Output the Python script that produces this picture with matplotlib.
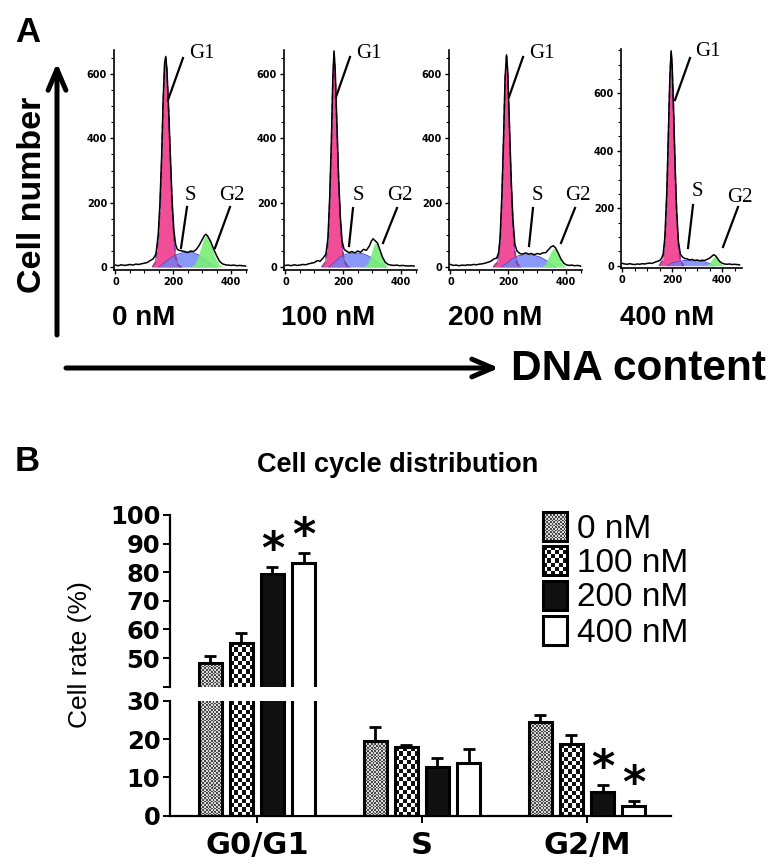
"""Cell cycle figure: flow histograms (A) and phase distribution bars (B)."""

import matplotlib
matplotlib.use("Agg")
import matplotlib.pyplot as plt
import numpy as np
from matplotlib.colors import ListedColormap
from matplotlib.patches import Rectangle
from matplotlib.ticker import MultipleLocator

W, H = 776, 867

doses = ["0 nM", "100 nM", "200 nM", "400 nM"]

# panel A: (DNA channel, cell count)
tot_0 = [(0, 6), (10, 4), (20, 7), (30, 5), (40, 6), (50, 8), (60, 6), (70, 9), (80, 8), (90, 10),
         (100, 12), (110, 14), (120, 20), (130, 25), (140, 40), (148, 100), (154, 200), (160, 350),
         (165, 520), (170, 635), (174, 655), (178, 615), (184, 490), (190, 345), (196, 205),
         (202, 115), (208, 70), (214, 55), (220, 52), (230, 50), (240, 48), (250, 45), (260, 50),
         (270, 48), (280, 55), (290, 68), (300, 85), (308, 98), (313, 102), (320, 95), (330, 78),
         (340, 55), (350, 35), (360, 18), (370, 10), (380, 7), (390, 6), (400, 5), (410, 6),
         (420, 4), (430, 5), (440, 4), (450, 3)]
g1_0 = [(128, 0), (138, 15), (148, 85), (154, 180), (160, 330), (165, 500), (170, 620), (174, 650),
        (178, 610), (184, 480), (190, 330), (196, 190), (202, 90), (208, 30), (218, 5), (228, 0)]
s_0 = [(150, 0), (170, 14), (190, 28), (210, 38), (230, 44), (250, 46), (270, 44), (290, 37),
       (310, 24), (330, 10), (350, 0)]
g2_0 = [(260, 0), (275, 10), (285, 30), (295, 60), (305, 88), (313, 98), (320, 92), (330, 70),
        (340, 42), (350, 20), (360, 7), (372, 0)]

tot_100 = [(0, 5), (10, 6), (20, 4), (30, 7), (40, 5), (50, 6), (60, 8), (70, 7), (80, 10), (90, 12),
           (100, 14), (110, 20), (120, 18), (130, 28), (140, 40), (147, 90), (153, 215), (159, 395),
           (164, 590), (168, 672), (172, 615), (178, 445), (184, 275), (190, 155), (196, 80),
           (203, 55), (210, 50), (220, 45), (230, 48), (240, 44), (250, 50), (260, 46), (270, 55),
           (280, 52), (290, 65), (297, 80), (303, 88), (310, 82), (318, 75), (325, 58), (335, 32),
           (345, 15), (355, 8), (365, 6), (375, 5), (385, 6), (395, 4), (405, 5), (415, 4),
           (425, 3), (435, 4), (445, 3)]
g1_100 = [(126, 0), (138, 15), (147, 70), (153, 200), (159, 380), (164, 580), (168, 670), (172, 600),
          (178, 430), (184, 260), (190, 140), (196, 60), (203, 20), (213, 4), (223, 0)]
s_100 = [(150, 0), (170, 16), (190, 32), (210, 40), (230, 43), (250, 43), (270, 41), (290, 33),
         (310, 21), (330, 8), (345, 0)]
g2_100 = [(270, 0), (285, 12), (295, 35), (303, 62), (310, 75), (318, 70), (325, 52), (335, 28),
          (345, 10), (355, 0)]

tot_200 = [(0, 8), (10, 5), (20, 6), (30, 4), (40, 6), (50, 5), (60, 7), (70, 6), (80, 8), (90, 7),
           (100, 9), (110, 10), (120, 12), (130, 15), (140, 18), (150, 25), (160, 28), (167, 45),
           (172, 95), (178, 225), (184, 410), (189, 590), (194, 660), (198, 612), (204, 445),
           (210, 275), (216, 150), (223, 70), (230, 50), (240, 42), (250, 40), (260, 44), (270, 40),
           (280, 42), (290, 38), (300, 42), (310, 40), (320, 44), (330, 45), (340, 55), (348, 63),
           (356, 66), (363, 60), (372, 45), (382, 25), (392, 12), (400, 7), (410, 5), (420, 6),
           (430, 4), (440, 5), (450, 3)]
g1_200 = [(148, 0), (163, 15), (172, 80), (178, 210), (184, 400), (189, 580), (194, 655), (198, 600),
          (204, 430), (210, 260), (216, 130), (223, 45), (231, 10), (243, 0)]
s_200 = [(175, 0), (195, 13), (215, 27), (235, 35), (260, 38), (285, 37), (310, 31), (330, 21),
         (350, 8), (365, 0)]
g2_200 = [(315, 0), (328, 10), (338, 28), (348, 48), (356, 58), (363, 55), (372, 38), (382, 18),
          (392, 5), (400, 0)]

tot_400 = [(0, 8), (10, 6), (20, 5), (30, 7), (40, 5), (50, 4), (60, 6), (70, 5), (80, 7), (90, 6),
           (100, 8), (110, 9), (120, 8), (130, 12), (140, 15), (150, 18), (157, 25), (164, 40),
           (171, 100), (179, 265), (185, 465), (191, 660), (196, 748), (200, 700), (206, 535),
           (212, 345), (218, 195), (225, 85), (233, 40), (242, 30), (250, 25), (260, 24), (270, 20),
           (280, 22), (290, 18), (300, 20), (310, 17), (320, 19), (330, 18), (340, 22), (350, 26),
           (358, 32), (366, 38), (372, 36), (380, 28), (390, 15), (400, 9), (410, 6), (420, 5),
           (430, 6), (440, 4), (450, 5), (460, 4), (470, 3)]
g1_400 = [(148, 0), (163, 20), (171, 80), (179, 250), (185, 450), (191, 650), (196, 745), (200, 690),
          (206, 520), (212, 330), (218, 180), (225, 70), (233, 20), (245, 0)]
s_400 = [(180, 0), (200, 9), (225, 15), (250, 18), (280, 19), (310, 17), (335, 12), (355, 6), (370, 0)]
g2_400 = [(335, 0), (348, 8), (358, 20), (366, 30), (372, 32), (380, 25), (390, 12), (400, 4), (410, 0)]

# panel B: cell rate (%) per phase, mean and upper error
phases = ["G0/G1", "S", "G2/M"]
rate_0 = [48.4, 19.6, 24.4]
rate_100 = [55.3, 17.8, 18.7]
rate_200 = [79.3, 12.6, 6.1]
rate_400 = [83.4, 13.7, 2.5]
err_0 = [2.3, 3.6, 1.8]
err_100 = [3.5, 0.6, 2.4]
err_200 = [2.6, 2.5, 1.9]
err_400 = [3.4, 3.8, 1.4]
star_200 = [True, False, True]
star_400 = [True, False, True]

fig = plt.figure(figsize=(W / 100, H / 100), dpi=100)


def box(l, t, r, b):
    return [l / W, 1 - b / H, (r - l) / W, (b - t) / H]


def xy(pts):
    return np.array([p[0] for p in pts]), np.array([p[1] for p in pts])


# ---------- panel A ----------
curves = [(tot_0, g1_0, s_0, g2_0), (tot_100, g1_100, s_100, g2_100),
          (tot_200, g1_200, s_200, g2_200), (tot_400, g1_400, s_400, g2_400)]
a_boxes = [(114, 50, 247, 269.6), (284, 50, 417, 269.6), (449, 50, 582, 269.6), (621, 49.4, 742, 268)]
a_xlim = [(-5, 455), (-5, 455), (-5, 455), (-5, 480)]
a_ylim = [(-8, 675), (-8, 675), (-8, 675), (-8, 753)]

for k, (tot, g1, s, g2) in enumerate(curves):
    ax = fig.add_axes(box(*a_boxes[k]))
    gx, gy = xy(g1)
    ax.fill_between(gx, 0, gy, color="#f24e98", lw=0, zorder=1)
    sx, sy = xy(s)
    ax.fill_between(sx, 0, sy, color="#6d7ff5", alpha=0.8, lw=0, zorder=2)
    ax.plot(sx, sy, color="#4b55d8", lw=0.7, zorder=2)
    hx, hy = xy(g2)
    ax.fill_between(hx, 0, hy, color="#78ef74", alpha=0.9, lw=0, zorder=3)
    ax.plot(gx, gy, color="#7a1f3d", lw=1.1, ls=(0, (4, 2.5)), zorder=4)
    ax.plot(gx, gy, color="#8a4fe0", lw=0.6, zorder=4)
    tx, ty = xy(tot)
    ax.plot(tx, ty, color="black", lw=1.1, zorder=5)
    ax.set_xlim(*a_xlim[k])
    ax.set_ylim(*a_ylim[k])
    ax.set_xticks([0, 200, 400])
    ax.set_yticks([0, 200, 400, 600])
    ax.xaxis.set_minor_locator(MultipleLocator(50))
    ax.yaxis.set_minor_locator(MultipleLocator(50))
    for side in ["top", "right"]:
        ax.spines[side].set_visible(False)
    for side in ["left", "bottom"]:
        ax.spines[side].set_linewidth(1.2)
    ax.tick_params(which="major", length=3, width=1, pad=2, labelsize=7)
    ax.tick_params(which="minor", length=2, width=0.8)
    for lab in ax.get_xticklabels() + ax.get_yticklabels():
        lab.set_fontweight("bold")
        lab.set_family("DejaVu Sans")
    ax.patch.set_alpha(0)

# ---------- panel B ----------
rates = [rate_0, rate_100, rate_200, rate_400]
errs = [err_0, err_100, err_200, err_400]
faces = ["none", "none", "#111111", "white"]
checks = [(1.7, ["#4a4a4a", "#d8d8d8"]), (4.2, ["#111111", "#ffffff"]), None, None]
offs = [-0.282, -0.094, 0.094, 0.282]
bw = 0.14
xlim_b = (-0.527, 2.509)

up = fig.add_axes(box(170, 515, 671, 686.7))
lo = fig.add_axes(box(170, 700.7, 671, 815.7))
up.set_ylim(40, 100)
lo.set_ylim(0, 30)
for ax in (up, lo):
    ax.set_xlim(*xlim_b)


def checker(ax, x0, x1, y0, y1, cell, colors, z):
    p0 = ax.transData.transform((x0, y0))
    p1 = ax.transData.transform((x1, y1))
    nx = max(1, int(round(abs(p1[0] - p0[0]) / cell)))
    ny = max(1, int(round(abs(p1[1] - p0[1]) / cell)))
    board = np.indices((ny, nx)).sum(axis=0) % 2
    ax.imshow(board, cmap=ListedColormap(colors), vmin=0, vmax=1, extent=(x0, x1, y0, y1),
              interpolation="nearest", aspect="auto", zorder=z)


idx = np.arange(len(phases))
for ax in (up, lo):
    ylo, yhi = ax.get_ylim()
    for i in range(4):
        xs = idx + offs[i]
        ax.bar(xs, rates[i], width=bw, facecolor=faces[i], edgecolor="black", lw=2.2, zorder=3)
        ax.errorbar(xs, rates[i], yerr=[np.zeros(3), errs[i]], fmt="none", ecolor="black",
                    elinewidth=2, capsize=4, capthick=2, zorder=4)
        if checks[i] is not None:
            cell, cols = checks[i]
            for x, v in zip(xs, rates[i]):
                top = min(v, yhi)
                if top > ylo:
                    checker(ax, x - bw / 2, x + bw / 2, ylo, top, cell, cols, 2)
    ax.set_xlim(*xlim_b)
    ax.set_ylim(ylo, yhi)
    ax.spines["top"].set_visible(False)
    ax.spines["right"].set_visible(False)
    ax.spines["left"].set_linewidth(1.6)
    ax.spines["bottom"].set_linewidth(1.6)
    ax.tick_params(axis="y", length=5, width=1.4, pad=2, labelsize=17.5)
    ax.patch.set_alpha(0)

up.spines["bottom"].set_visible(False)
up.set_xticks([])
up.set_yticks(np.arange(40, 101, 10))
up.set_yticklabels([""] + [str(v) for v in range(50, 101, 10)])
lo.set_yticks([0, 10, 20, 30])
lo.set_xticks(idx)
lo.set_xticklabels(phases)
lo.tick_params(axis="x", length=5, width=1.4, pad=6, labelsize=22)
for ax in (up, lo):
    for lab in ax.get_xticklabels() + ax.get_yticklabels():
        lab.set_fontweight("bold")
        lab.set_family("DejaVu Sans")

# significance marks
for i, stars in [(2, star_200), (3, star_400)]:
    for j, flag in enumerate(stars):
        if not flag:
            continue
        ax = up if rates[i][j] > 35 else lo
        ax.annotate("*", (idx[j] + offs[i], rates[i][j] + errs[i][j]), xytext=(0, 12),
                    textcoords="offset points", ha="center", va="center",
                    fontsize=32, fontweight="bold", family="DejaVu Sans", zorder=5)

# ---------- overlay: labels, arrows, legend ----------
ov = fig.add_axes([0, 0, 1, 1])
ov.set_xlim(0, W)
ov.set_ylim(H, 0)
ov.axis("off")
ov.patch.set_alpha(0)

sans = "Liberation Sans"
ov.text(15, 42, "A", fontsize=25, fontweight="bold", family=sans, va="baseline")
ov.text(15, 471, "B", fontsize=25, fontweight="bold", family=sans, va="baseline")
ov.text(33, 195, "Cell number", rotation=90, fontsize=24.5, fontweight="bold", family=sans,
        ha="center", va="center")
ov.text(511, 380, "DNA content", fontsize=30.5, fontweight="bold", family=sans, va="baseline")
ov.annotate("", xy=(57, 63), xytext=(57, 335),
            arrowprops=dict(arrowstyle="->,head_length=0.75,head_width=0.32", lw=3.6,
                            color="black", mutation_scale=20, shrinkA=0, shrinkB=0))
ov.annotate("", xy=(499, 368), xytext=(66, 368),
            arrowprops=dict(arrowstyle="->,head_length=0.75,head_width=0.32", lw=3.6,
                            color="black", mutation_scale=20, shrinkA=0, shrinkB=0))

dose_x = [112, 281, 448, 620]
for d, x in zip(doses, dose_x):
    ov.text(x, 325, d, fontsize=20, fontweight="bold", family=sans, va="baseline")

# phase labels with pointer lines
marks = [
    [("G1", 202, 52, 183, 58, 168, 100), ("S", 190, 193, 187, 207, 181, 248), ("G2", 232, 193, 230, 207, 215, 248)],
    [("G1", 369, 52, 350, 57, 336, 97), ("S", 358, 193, 353, 208, 349, 246), ("G2", 400, 193, 397, 208, 383, 243)],
    [("G1", 542, 52, 523, 57, 509, 97), ("S", 537, 193, 533, 208, 529, 246), ("G2", 578, 193, 575, 208, 561, 243)],
    [("G1", 708, 50, 690, 58, 675, 100), ("S", 697, 190, 693, 205, 688, 248), ("G2", 740, 195, 738, 207, 723, 247)],
]
for panel in marks:
    for name, tx, ty, x0, y0, x1, y1 in panel:
        ov.text(tx, ty + 2, name, fontsize=15, family="Liberation Serif", ha="center", va="center")
        ov.plot([x0, x1], [y0, y1], color="black", lw=1.6)

ov.text(398, 465, "Cell cycle distribution", fontsize=19.5, fontweight="bold", family=sans,
        ha="center", va="center")
ov.text(80, 655, "Cell rate (%)", rotation=90, fontsize=19, family=sans, ha="center", va="center")

# legend
rows = [526, 560.7, 595, 630]
for i, (d, yc) in enumerate(zip(doses, rows)):
    l, r, t, b = 543, 567, yc - 14.5, yc + 14.5
    if checks[i] is not None:
        cell, cols = checks[i]
        checker(ov, l, r, b, t, cell, cols, 2)
    ov.add_patch(Rectangle((l, t), r - l, b - t, facecolor=faces[i], edgecolor="black",
                           lw=2.2, zorder=3))
    ov.text(577, yc + 3, d, fontsize=24, family=sans, va="center")
ov.set_xlim(0, W)
ov.set_ylim(H, 0)

fig.savefig("out.png", dpi=100)
